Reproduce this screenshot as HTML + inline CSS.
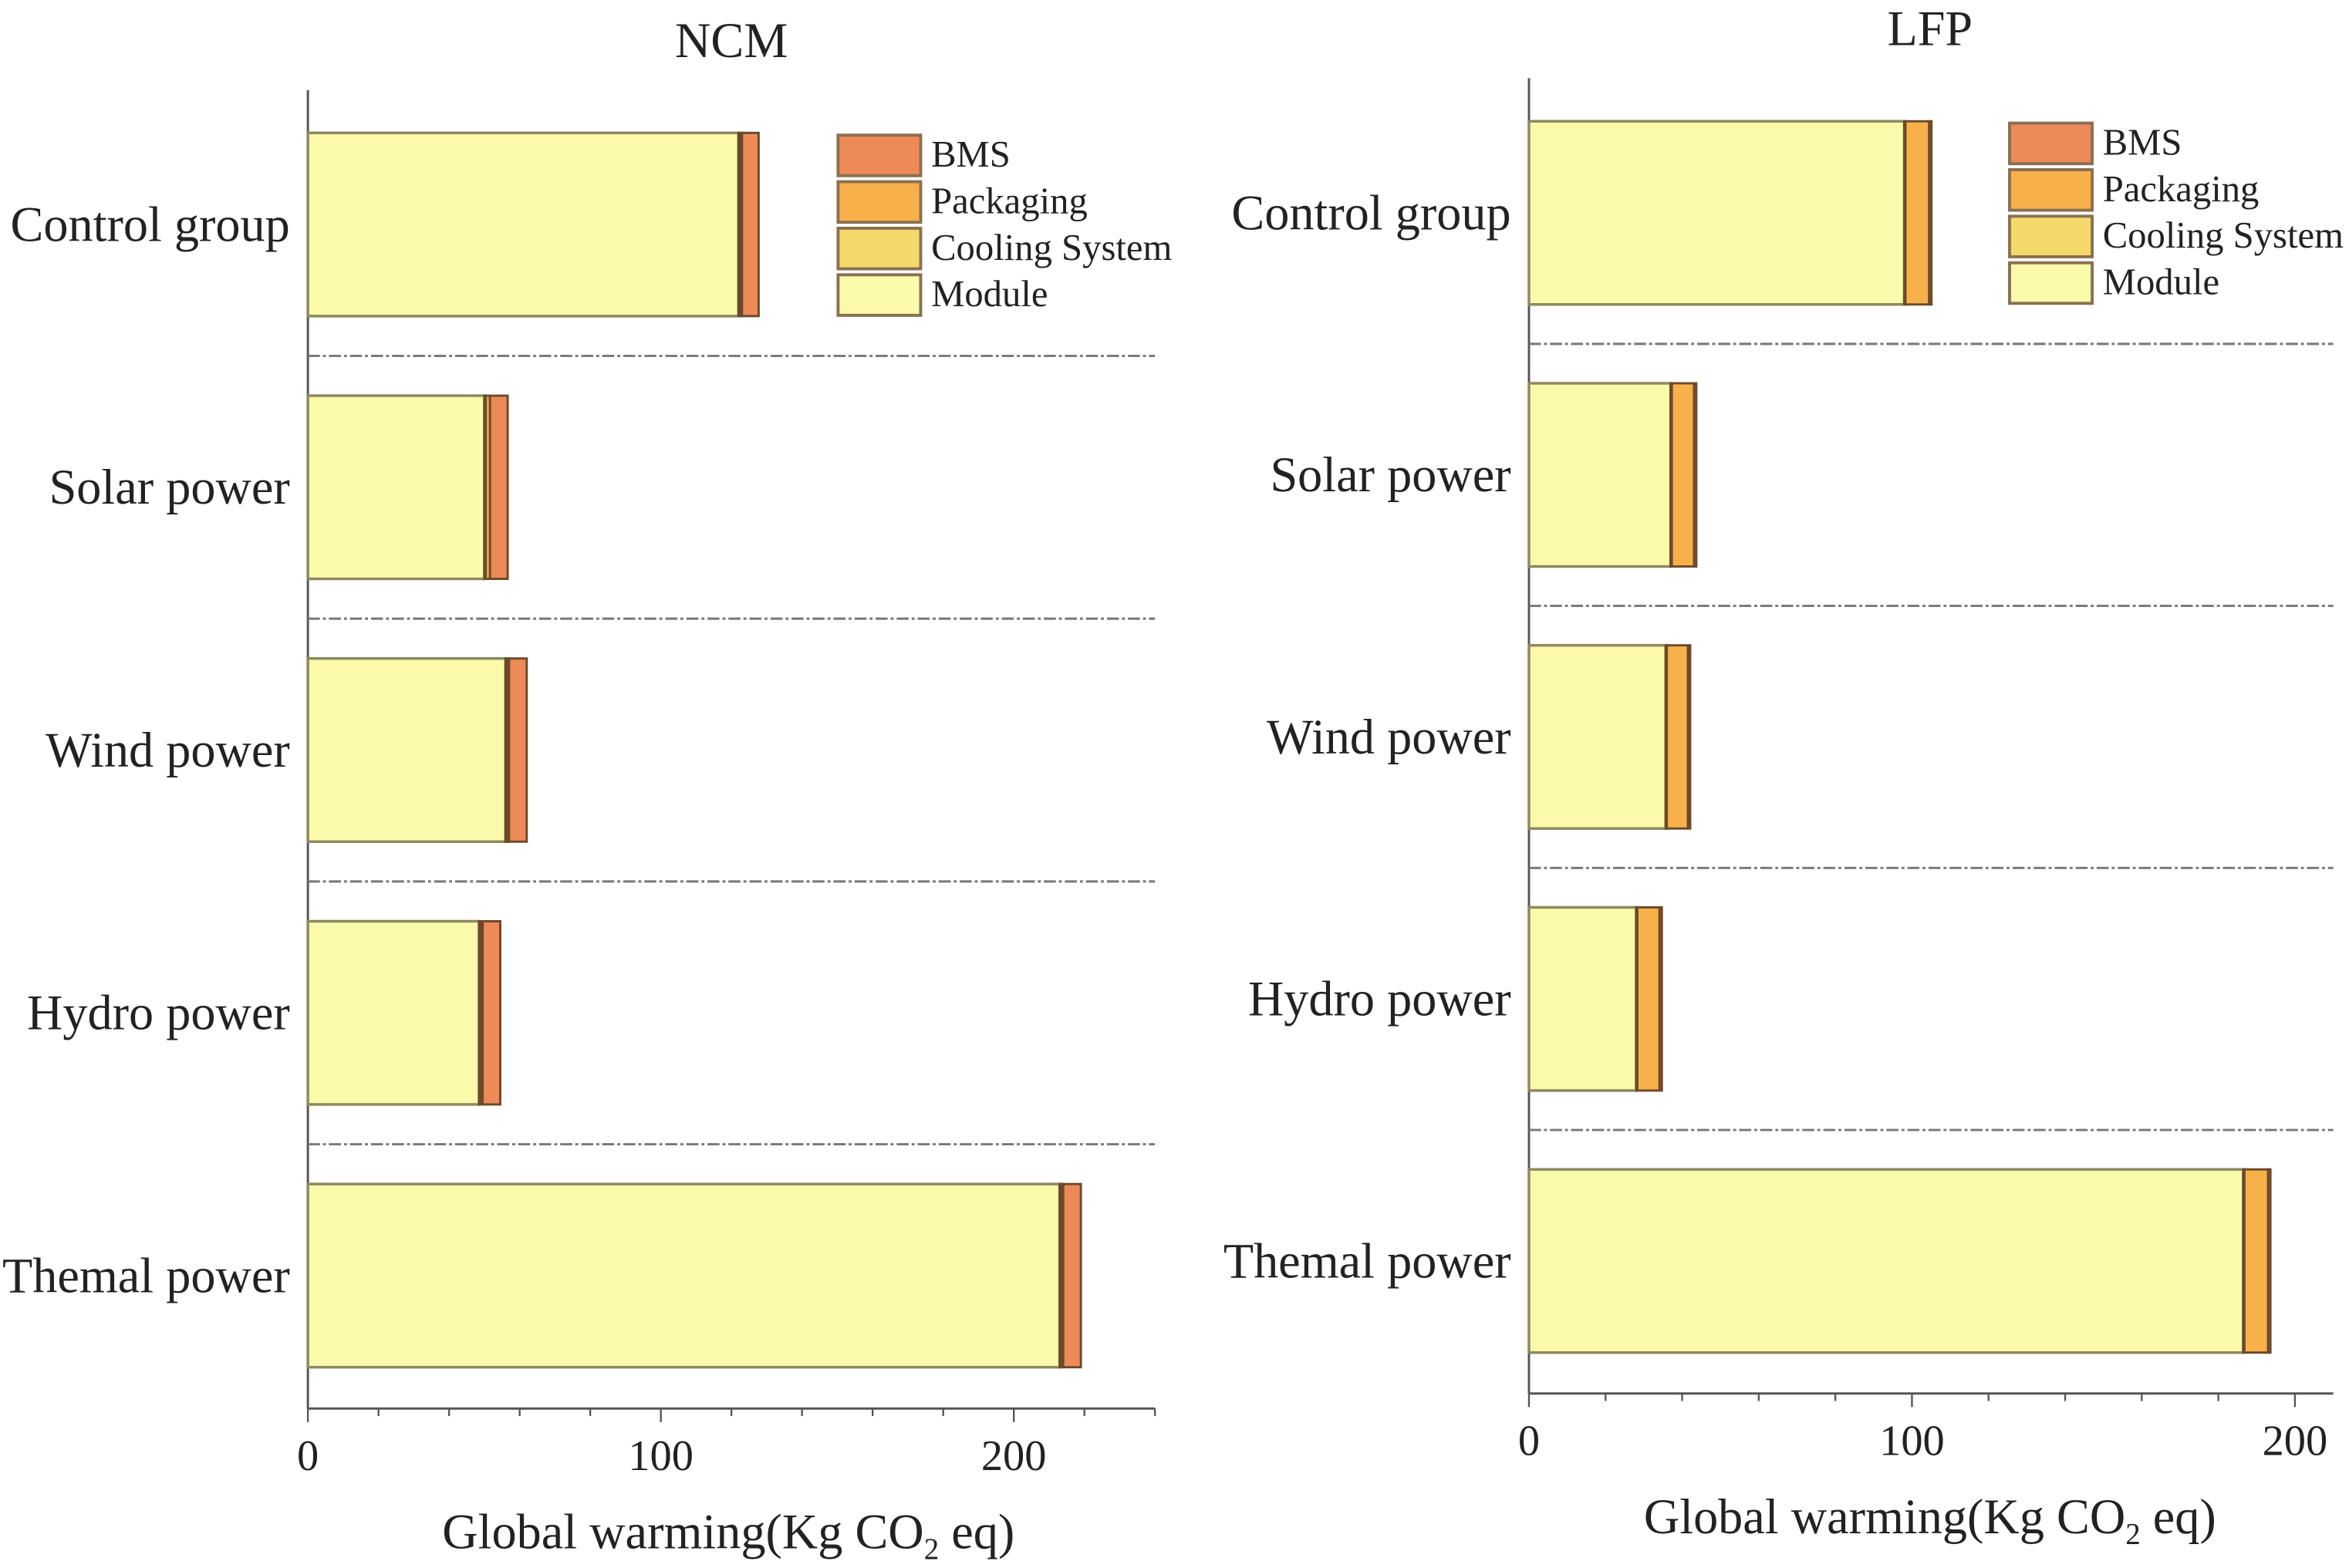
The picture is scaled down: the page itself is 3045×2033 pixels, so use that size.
<!DOCTYPE html>
<html><head><meta charset="utf-8"><style>
html,body{margin:0;padding:0;background:#fff;}
svg{display:block;}
text{font-family:"Liberation Serif",serif;fill:#222;}
</style></head>
<body>
<svg id="chart" width="3045" height="2033" viewBox="0 0 1564 1044.2" xmlns="http://www.w3.org/2000/svg"></svg>
<script>
const categories = ["Control group","Solar power","Wind power","Hydro power","Themal power"];
const seriesNames = ["Module","Cooling System","Packaging","BMS"];
const ncmModule = [122, 50, 56, 48.5, 213];
const ncmCooling = [0.4, 0.4, 0.4, 0.4, 0.4];
const ncmPackaging = [0.6, 1.2, 0.6, 0.6, 0.6];
const ncmBMS = [4.7, 5, 5, 5, 5];
const lfpModule = [98, 37, 35.7, 28, 186.5];
const lfpCooling = [0.3, 0.3, 0.3, 0.3, 0.3];
const lfpPackaging = [6.2, 5.8, 5.5, 5.8, 6.2];
const lfpBMS = [0.6, 0.6, 0.6, 0.6, 0.6];
const ncmTicks = [0, 100, 200];
const lfpTicks = [0, 100, 200];
const colors = ["#FAFAAA","#F5D86A","#F8B04A","#EE8A58"];

const NS="http://www.w3.org/2000/svg";
const svg=document.getElementById('chart');
function mk(tag,attrs,parent){const e=document.createElementNS(NS,tag);for(const k in attrs)e.setAttribute(k,attrs[k]);(parent||svg).appendChild(e);return e;}

function panel(p){
  const g=mk('g',{});
  
  
  const sx=v=>p.x0+v*p.ppu;
  const t=mk('text',{x:p.titleX,y:p.titleY,'font-size':33,'text-anchor':'middle'},g);
  t.textContent=p.title;
  
  
  const ya=mk('line',{x1:p.x0,y1:p.yTop,x2:p.x0,y2:p.yAxis,stroke:'#555','stroke-width':1.5},g);
  
  
  const xa=mk('line',{x1:p.x0,y1:p.yAxis,x2:sx(p.max),y2:p.yAxis,stroke:'#555','stroke-width':1.5},g);
  
  
  for(let v=0;v<=p.max;v+=20){
    const major=v%100===0;
    const tk=mk('line',{x1:sx(v),y1:p.yAxis,x2:sx(v),y2:p.yAxis+(major?9:5),stroke:'#555','stroke-width':1.2},g);
    
    
  }
  p.ticks.forEach(v=>{
    const tl=mk('text',{x:sx(v),y:p.yAxis+41,'font-size':29,'text-anchor':'middle'},g);
    tl.textContent=v;
    
    
  });
  const at=mk('text',{x:p.axTitleX,y:p.yAxis+93,'font-size':33,'text-anchor':'middle'},g);
  at.innerHTML='Global warming(Kg CO<tspan font-size="20" dy="7">2</tspan><tspan dy="-7"> eq)</tspan>';
  
  
  for(let i=1;i<categories.length;i++){
    const y=p.bandTop+i*p.band;
    const s=mk('line',{x1:p.x0,y1:y,x2:sx(p.max),y2:y,stroke:'#777','stroke-width':1.5,'stroke-dasharray':'8 2 2 2'},g);
    
    
  }
  categories.forEach((c,i)=>{
    const yc=p.bandTop+(i+0.5)*p.band;
    const lab=mk('text',{x:p.x0-12,y:yc+11,'font-size':33,'text-anchor':'end'},g);
    lab.textContent=c;
    
    
    const vals=[p.series[0][i],p.series[1][i],p.series[2][i],p.series[3][i]];
    let acc=0;
    vals.forEach((v,j)=>{
      const r=mk('rect',{x:sx(acc),y:yc-61,width:Math.max(v*p.ppu,0.5),height:122,fill:colors[j],stroke:j===0?'#8d8a60':'#6b4a2a','stroke-width':j===0?1.8:1.5},g);
      
      
      acc+=v;
    });
  });
  const leg=[["BMS",3],["Packaging",2],["Cooling System",1],["Module",0]];
  leg.forEach((l,k)=>{
    const y=p.legY+k*31;
    const b=mk('rect',{x:p.legX,y:y,width:55,height:27,fill:colors[l[1]],stroke:'#8a7050','stroke-width':2},g);
    
    
    const tx=mk('text',{x:p.legX+62,y:y+21,'font-size':25},g);
    tx.textContent=l[0];
    
    
  });
}
panel({key:'ncm',title:'NCM',titleX:487,titleY:38,x0:205,ppu:2.35,max:240,yTop:60,yAxis:938,bandTop:62,band:175,
  ticks:ncmTicks,axTitleX:485,series:[ncmModule,ncmCooling,ncmPackaging,ncmBMS],legX:558,legY:90});
panel({key:'lfp',title:'LFP',titleX:1285,titleY:30,x0:1018,ppu:2.55,max:210,yTop:52,yAxis:928,bandTop:54.5,band:174.5,
  ticks:lfpTicks,axTitleX:1285,series:[lfpModule,lfpCooling,lfpPackaging,lfpBMS],legX:1338,legY:82});
</script>
</body></html>
